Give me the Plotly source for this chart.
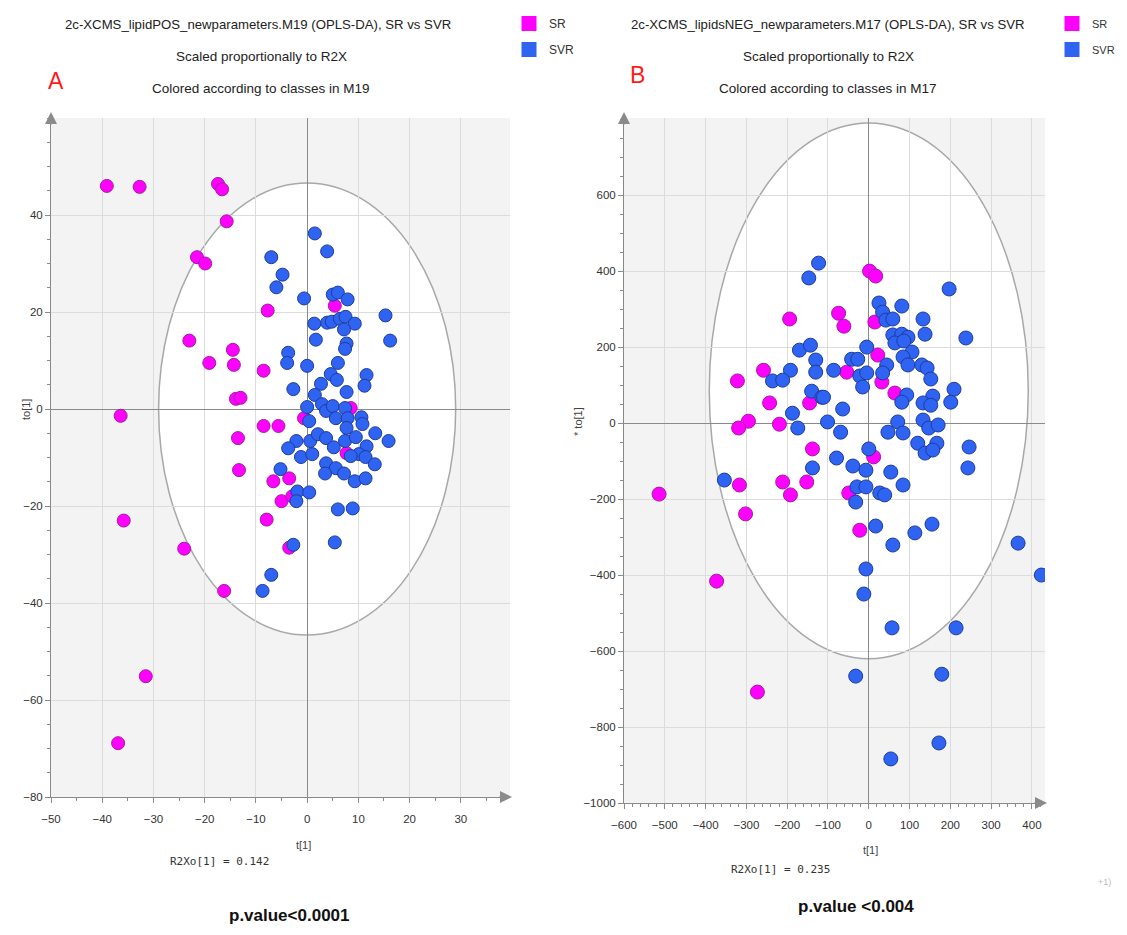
import plotly.graph_objects as go

# ---------------- Panel A : lipidPOS M19 ----------------
A_SR_T1 = [-39.1, -32.7, -17.4, -16.6, -15.7, -21.5, -19.9, -23.0, -19.1, -14.5, -14.3, -7.7, -8.5,
           -13.9, -13.0, -36.4, -13.5, -13.3, -8.5, -5.6, -35.8, -24.0, -16.2, -31.5, -36.9, -6.6,
           -3.5, -5.0, -2.9, -7.9, -3.5, -0.6, 5.4, 8.5, 7.7]
A_SR_TO1 = [46.0, 45.8, 46.4, 45.3, 38.7, 31.3, 30.0, 14.1, 9.5, 12.2, 9.1, 20.3, 7.9,
            2.1, 2.3, -1.4, -6.0, -12.6, -3.5, -3.5, -23.0, -28.8, -37.5, -55.1, -68.9, -14.9,
            -14.3, -19.0, -18.0, -22.8, -28.6, -1.9, 21.3, 0.2, -9.1]
A_SVR_T1 = [1.5, 3.9, -7.0, -4.8, -6.0, -0.6, 5.0, 6.0, 7.9, 15.3, 16.2, 1.4, 1.7, 3.9, 4.8, 6.4,
            7.5, 9.3, 7.2, 7.7, 7.4, 6.0, -3.7, -3.9, 0.0, -2.7, 4.6, 5.8, 2.7, 1.5, 7.7, 11.6,
            11.2, 0.0, 0.4, 2.9, 3.7, 5.0, 5.6, 7.4, 7.9, 10.6, 10.8, 7.7, 13.3, 15.9, -2.1, -3.7,
            -1.2, 0.6, 2.1, 3.7, 5.2, 7.4, 9.5, 11.6, 10.1, 11.4, 3.7, 5.6, 7.2, 9.3, 11.4, 13.2,
            8.5, 1.0, 3.5, -5.2, -1.9, 0.4, -2.1, 6.0, 8.9, 5.4, -2.7, -7.0, -8.7]
A_SVR_TO1 = [36.2, 32.5, 31.3, 27.7, 25.1, 22.8, 23.6, 24.0, 22.6, 19.3, 14.1, 17.6, 14.3, 17.8,
             18.0, 18.6, 19.0, 17.6, 16.4, 13.5, 12.4, 9.5, 11.6, 9.5, 8.9, 4.1, 7.2, 6.0, 5.2,
             2.9, 3.5, 7.0, 4.8, 0.4, -2.5, 1.0, -0.4, 0.6, -1.9, 0.2, -1.9, -1.7, -3.1, -3.9,
             -5.0, -6.6, -6.6, -8.1, -9.9, -6.6, -5.2, -6.0, -7.9, -6.6, -5.8, -7.7, -9.3, -9.9,
             -11.2, -12.2, -13.3, -14.9, -14.3, -11.4, -9.7, -9.3, -13.3, -12.4, -17.0, -17.2,
             -19.0, -20.7, -20.5, -27.5, -28.0, -34.2, -37.5]

# ---------------- Panel B : lipidsNEG M17 ----------------
B_SR_T1 = [2, 17, -74, -61, -194, 15, 22, -258, -322, -243, -295, -319, -219, -145, -54, 32, 64,
           -138, 12, -317, -211, -192, -152, -49, -514, -302, -22, -373, -273]
B_SR_TO1 = [400, 387, 289, 255, 274, 266, 179, 139, 111, 53, 5, -13, -3, 53, 134, 108, 79,
            -68, -89, -163, -155, -189, -155, -184, -187, -239, -282, -416, -708]
B_SVR_T1 = [-123, -147, 197, 25, 81, 34, 42, 59, 133, 138, 238, 59, 81, 96, 64, 86, 106, 84, 96,
            -5, -170, -143, -130, -130, -192, -236, -211, -42, -27, -22, -5, -15, 44, 34, 130, 143,
            152, 209, 201, 157, 133, 152, 93, 81, -86, -140, -115, -111, -64, -187, -174, -101,
            -69, 71, 84, 47, 133, 147, 170, 167, 120, 138, 157, 246, 243, 0, -138, -79, -39, -7,
            54, 84, -354, -29, -7, 27, 39, -32, 17, 155, 113, 59, 366, 423, -7, -12, 57, 214,
            -32, 179, 172, 54]
B_SVR_TO1 = [421, 382, 353, 316, 308, 292, 271, 274, 274, 234, 224, 232, 234, 226, 211, 216, 187,
             174, 153, 200, 192, 205, 166, 134, 139, 111, 113, 168, 168, 124, 132, 95, 153, 132,
             153, 145, 116, 89, 55, 71, 53, 47, 74, 55, 139, 84, 68, 68, 37, 26, -13, 3, -24, 3,
             -26, -24, 8, -13, -5, -53, -53, -79, -71, -63, -118, -68, -118, -92, -113, -124,
             -129, -163, -150, -168, -168, -184, -189, -208, -271, -266, -289, -321, -316, -400,
             -384, -450, -539, -539, -666, -661, -842, -884]

A_XTICKS = [-50, -40, -30, -20, -10, 0, 10, 20, 30]
A_YTICKS = [40, 20, 0, -20, -40, -60, -80]
B_XTICKS = [-600, -500, -400, -300, -200, -100, 0, 100, 200, 300, 400]
B_YTICKS = [600, 400, 200, 0, -200, -400, -600, -800, -1000]
A_ELLIPSE = dict(x0=-29.0, x1=29.0, y0=-46.6, y1=46.6)
B_ELLIPSE = dict(x0=-391, x1=391, y0=-620, y1=790)

MAG = "#ff00ff"
MAG_EDGE = "#a020a0"
BLU = "#2f63f2"
BLU_EDGE = "#1f3c9c"
FONT = "Liberation Sans, Arial, sans-serif"
MONO = "DejaVu Sans Mono, Liberation Mono, monospace"

# the page body keeps its default 8px margin, so the figure is drawn offset by 8px
OFF = 8
W, H = 1127 - 2 * OFF, 935 - 2 * OFF

def px_x(p):
    return (p - OFF) / W

def px_y(p):
    return 1 - (p - OFF) / H

fig = go.Figure()

def add_panel(xs_sr, ys_sr, xs_svr, ys_svr, xa, ya, size):
    fig.add_trace(go.Scatter(x=xs_sr, y=ys_sr, mode="markers", xaxis=xa, yaxis=ya, showlegend=False,
                             marker=dict(size=size, color=MAG, line=dict(color=MAG_EDGE, width=1)),
                             hoverinfo="skip"))
    fig.add_trace(go.Scatter(x=xs_svr, y=ys_svr, mode="markers", xaxis=xa, yaxis=ya, showlegend=False,
                             marker=dict(size=size, color=BLU, line=dict(color=BLU_EDGE, width=1)),
                             hoverinfo="skip"))

add_panel(A_SR_T1, A_SR_TO1, A_SVR_T1, A_SVR_TO1, "x", "y", 13)
add_panel(B_SR_T1, B_SR_TO1, B_SVR_T1, B_SVR_TO1, "x2", "y2", 14)

# legend entries (one legend per panel)
for name, col, lg, grp in [("SR", MAG, "legend", "a1"), ("SVR", BLU, "legend", "a2"),
                           ("SR", MAG, "legend2", "b1"), ("SVR", BLU, "legend2", "b2")]:
    fig.add_trace(go.Scatter(x=[None], y=[None], mode="markers", name=name, legend=lg,
                             legendgroup=grp,
                             marker=dict(symbol="square", size=15, color=col), xaxis="x", yaxis="y"))

axis_common = dict(showgrid=True, gridcolor="#dcdcdc", gridwidth=1, zeroline=True,
                   zerolinecolor="#8a8a8a", zerolinewidth=1, showline=True, linecolor="#8a8a8a",
                   linewidth=1, ticks="outside", ticklen=5, tickcolor="#8a8a8a", automargin=False,
                   tickfont=dict(family=FONT, size=11.5, color="#333333"), mirror=False)

fig.update_layout(
    width=W, height=H,
    margin=dict(l=0, r=0, t=0, b=0, autoexpand=False),
    paper_bgcolor="white",
    plot_bgcolor="#f3f3f3",
    showlegend=True,
    xaxis=dict(domain=[px_x(51), px_x(510)], range=[-50, 39.6], tickvals=A_XTICKS,
               minor=dict(dtick=5, ticks="outside", ticklen=3, tickcolor="#8a8a8a", showgrid=False),
               anchor="y", ticklabelstandoff=6, **axis_common),
    yaxis=dict(domain=[px_y(797), px_y(118)], range=[-80, 60], tickvals=A_YTICKS,
               minor=dict(dtick=5, ticks="outside", ticklen=3, tickcolor="#8a8a8a", showgrid=False),
               anchor="x", **axis_common),
    xaxis2=dict(domain=[px_x(624), px_x(1045)], range=[-600, 432], tickvals=B_XTICKS,
                minor=dict(dtick=20, ticks="outside", ticklen=3, tickcolor="#8a8a8a", showgrid=False),
                anchor="y2", ticklabelstandoff=6, **axis_common),
    yaxis2=dict(domain=[px_y(803), px_y(118)], range=[-1000, 803], tickvals=B_YTICKS,
                minor=dict(dtick=50, ticks="outside", ticklen=3, tickcolor="#8a8a8a", showgrid=False),
                anchor="x2", **axis_common),
    legend=dict(x=px_x(509), y=px_y(9), xanchor="left", yanchor="top", bgcolor="rgba(0,0,0,0)",
                font=dict(family=FONT, size=12, color="#333"), tracegroupgap=7, itemwidth=30),
    legend2=dict(x=px_x(1052), y=px_y(9), xanchor="left", yanchor="top", bgcolor="rgba(0,0,0,0)",
                 font=dict(family=FONT, size=11, color="#333"), tracegroupgap=7, itemwidth=30),
)

# Hotelling T2 ellipses
fig.add_shape(type="circle", xref="x", yref="y", layer="below", fillcolor="white",
              line=dict(color="#a8a8a8", width=1.5), **A_ELLIPSE)
fig.add_shape(type="circle", xref="x2", yref="y2", layer="below", fillcolor="white",
              line=dict(color="#a8a8a8", width=1.5), **B_ELLIPSE)

ann = []
def text(x, y, s, size=16, color="#222", bold=False, family=FONT, xanchor="center"):
    ann.append(dict(x=px_x(x), y=px_y(y), xref="paper", yref="paper", text=("<b>%s</b>" % s) if bold else s,
                    showarrow=False, xanchor=xanchor, yanchor="middle",
                    font=dict(family=family, size=size, color=color)))

# titles
text(258, 24, "2c-XCMS_lipidPOS_newparameters.M19 (OPLS-DA), SR vs SVR", size=13.2)
text(261, 57, "Scaled proportionally to R2X", size=13.5)
text(261, 89, "Colored according to classes in M19", size=13.5)
text(828, 24, "2c-XCMS_lipidsNEG_newparameters.M17 (OPLS-DA), SR vs SVR", size=13.2)
text(828, 57, "Scaled proportionally to R2X", size=13.5)
text(828, 89, "Colored according to classes in M17", size=13.5)
text(56, 81, "A", size=23, color="#ff1a1a")
text(637, 75, "B", size=23, color="#ff1a1a")

# axis titles
text(303, 845, "t[1]", size=11, color="#444")
text(870, 850, "t[1]", size=11, color="#444")
ann.append(dict(x=px_x(18), y=px_y(410), xref="paper", yref="paper", text="to[1]", showarrow=False,
                textangle=-90, font=dict(family=FONT, size=11, color="#444")))
ann.append(dict(x=px_x(578), y=px_y(422), xref="paper", yref="paper", text="* to[1]", showarrow=False,
                textangle=-90, font=dict(family=FONT, size=11, color="#444")))

text(219, 861, "R2Xo[1] = 0.142", size=11, color="#333", family=MONO)
text(780, 869, "R2Xo[1] = 0.235", size=11, color="#333", family=MONO)
text(289, 915, "p.value<0.0001", size=17, color="#111", bold=True)
text(856, 906, "p.value <0.004", size=17, color="#111", bold=True)
text(1104, 882, "+1)", size=9, color="#bbbbbb")

# axis arrows
for (xp, yp, axv, ayv) in [(512, 797, -14, 0), (51, 112, 0, 14), (1047, 803, -14, 0), (624, 112, 0, 14)]:
    ann.append(dict(x=px_x(xp), y=px_y(yp), xref="paper", yref="paper", ax=axv, ay=ayv,
                    axref="pixel", ayref="pixel", showarrow=True, arrowhead=2, arrowsize=1.6,
                    arrowwidth=1.5, arrowcolor="#8a8a8a", text=""))

fig.update_layout(annotations=ann)
fig.write_html("out.html")
